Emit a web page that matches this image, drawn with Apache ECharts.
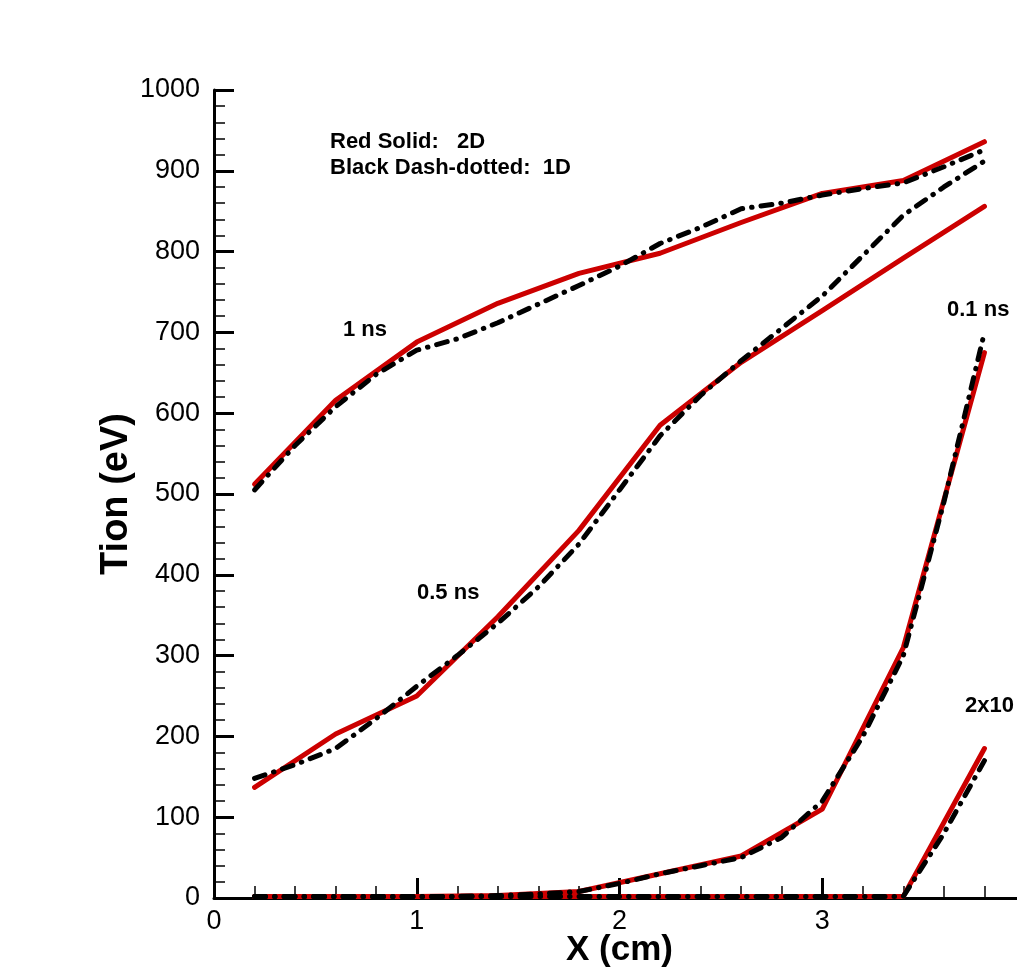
<!DOCTYPE html>
<html style="height: 100%; width: 100%;">
<head>
  <meta charset="UTF-8">
  <title>Tion vs X</title>
  <script src="https://cdn.jsdelivr.net/npm/echarts@6/dist/echarts.min.js"></script>
</head>
<body style="height: 100%; margin: 0; background: #fff;">
  <div id="main" style="width: 1017px; height: 970px;"></div>
  <script type="text/javascript">
    // x positions (cm)
    var x2d = [0.2, 0.6, 1.0, 1.4, 1.8, 2.2, 2.6, 3.0, 3.4, 3.8];
    var x1d = [0.2, 0.4, 0.6, 0.8, 1.0, 1.2, 1.4, 1.6, 1.8, 2.0, 2.2, 2.4, 2.6, 2.8, 3.0, 3.2, 3.4, 3.6, 3.8];

    // red solid: 2D
    var red1ns = [512, 616, 688, 736, 773, 798, 836, 872, 888, 936];
    var red05ns = [137, 203, 250, 348, 455, 585, 663, 727, 792, 856];
    var red01ns = [2, 2, 2, 3, 8, 30, 52, 110, 310, 675];
    var red2e = [2, 2, 2, 2, 2, 2, 2, 2, 2, 185];

    // black dash-dotted: 1D
    var blk1ns = [505, 560, 608, 648, 678, 692, 712, 735, 758, 782, 810, 830, 853, 860, 870, 878, 885, 905, 926];
    var blk05ns = [148, 165, 185, 222, 262, 300, 340, 385, 438, 505, 572, 622, 665, 705, 745, 795, 845, 880, 912];
    var blk01ns = [2, 2, 2, 2, 2, 2, 3, 5, 8, 18, 30, 40, 50, 75, 120, 200, 300, 490, 700];
    var blk2e = [2, 2, 2, 2, 2, 2, 2, 2, 2, 2, 2, 2, 2, 2, 2, 2, 2, 80, 170];

    function pairs(xs, ys) {
      return xs.map(function (x, i) { return [x, ys[i]]; });
    }

    var redStyle = { color: '#cc0000', width: 5, cap: 'round', join: 'round' };
    var blackStyle = { color: '#000', width: 5, type: [11, 9, 0.5, 9], cap: 'round', join: 'round' };

    function redSeries(ys) {
      return { type: 'line', data: pairs(x2d, ys), showSymbol: false, lineStyle: redStyle, z: 2, animation: false };
    }
    function blackSeries(ys) {
      return { type: 'line', data: pairs(x1d, ys), showSymbol: false, lineStyle: blackStyle, z: 3, animation: false };
    }

    var boldFont = 'bold 22px "Liberation Sans", Arial, sans-serif';
    function label(txt, left, y) {
      return { type: 'text', left: left, top: y - 12, style: { text: txt, font: boldFont, fill: '#000' } };
    }

    var chart = echarts.init(document.getElementById('main'), null, { renderer: 'canvas' });
    chart.setOption({
      animation: false,
      grid: { left: 214, right: -8, top: 90, bottom: 72, outerBoundsMode: 'none', containLabel: false },
      xAxis: {
        type: 'value', min: 0, max: 4, interval: 1,
        name: 'X (cm)', nameLocation: 'middle', nameGap: 35, nameMoveOverlap: false,
        nameTextStyle: { fontFamily: 'Liberation Sans', fontWeight: 'bold', fontSize: 35, color: '#000' },
        axisLine: { show: true, onZero: false, lineStyle: { color: '#000', width: 3 } },
        axisTick: { show: true, inside: true, length: 20, lineStyle: { color: '#000', width: 3 } },
        minorTick: { show: true, splitNumber: 5, length: 12, lineStyle: { color: '#000', width: 1.5 } },
        axisLabel: { fontFamily: 'Liberation Sans', fontSize: 27, color: '#000', margin: 10 },
        splitLine: { show: false }
      },
      yAxis: {
        type: 'value', min: 0, max: 1000, interval: 100,
        name: 'Tion (eV)', nameLocation: 'middle', nameGap: 78, nameRotate: 90, nameMoveOverlap: false,
        nameTextStyle: { fontFamily: 'Liberation Sans', fontWeight: 'bold', fontSize: 38, color: '#000' },
        axisLine: { show: true, lineStyle: { color: '#000', width: 3 } },
        axisTick: { show: true, inside: true, length: 20, lineStyle: { color: '#000', width: 3 } },
        minorTick: { show: true, splitNumber: 5, length: 11, lineStyle: { color: '#000', width: 1.5 } },
        axisLabel: { fontFamily: 'Liberation Sans', fontSize: 27, color: '#000', margin: 14, formatter: function (v) { return String(v); } },
        splitLine: { show: false }
      },
      series: [
        redSeries(red1ns), redSeries(red05ns), redSeries(red01ns), redSeries(red2e),
        blackSeries(blk1ns), blackSeries(blk05ns), blackSeries(blk01ns), blackSeries(blk2e)
      ],
      graphic: [
        label('Red Solid:   2D', 330, 143),
        label('Black Dash-dotted:  1D', 330, 169),
        label('1 ns', 343, 331),
        label('0.5 ns', 417, 594),
        label('0.1 ns', 947, 311),
        label('2x10', 965, 707)
      ]
    });
  </script>
</body>
</html>
